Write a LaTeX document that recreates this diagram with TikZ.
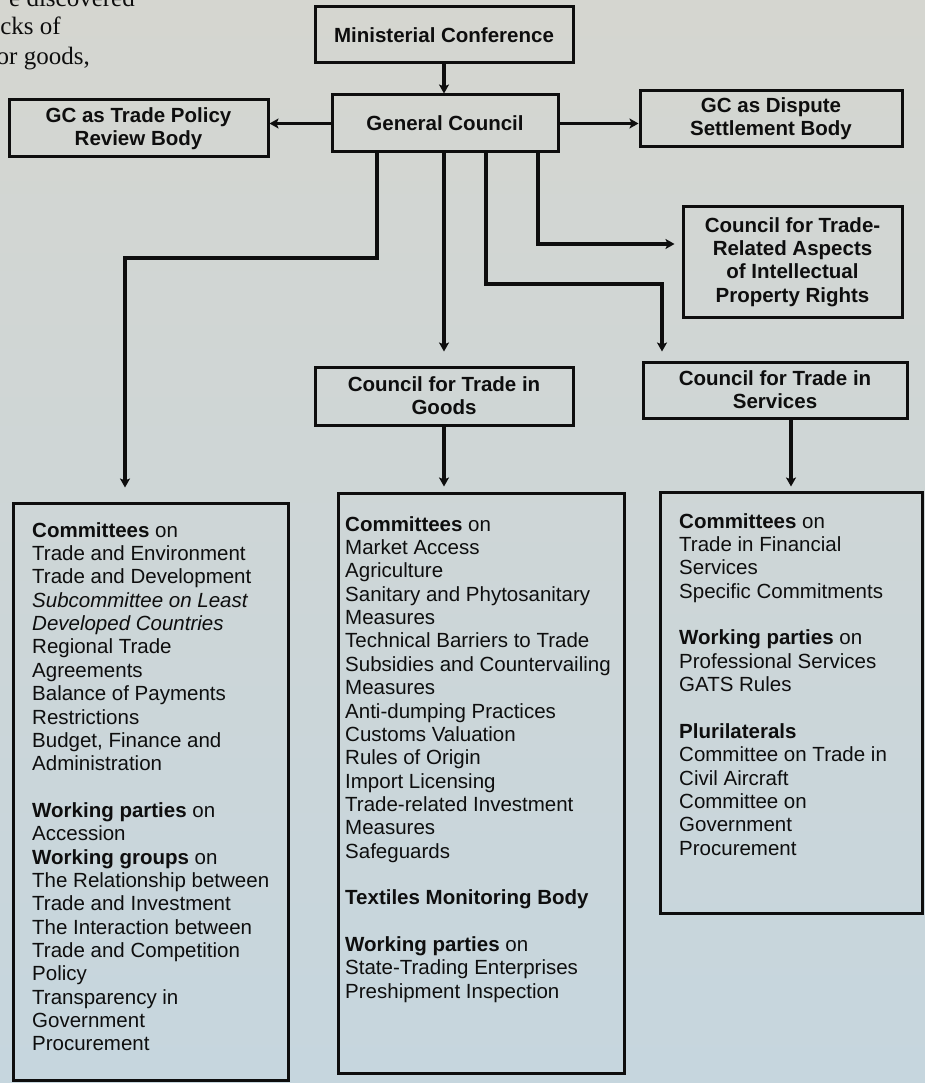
\documentclass[tikz,border=0pt]{standalone}
\usepackage{fontspec}
\setmainfont{Liberation Sans}
\newfontfamily\serifpage{Liberation Serif}
\usetikzlibrary{arrows.meta}
\definecolor{bgtop}{RGB}{213,214,208}
\definecolor{bgbot}{RGB}{198,214,222}
\definecolor{ink}{RGB}{14,14,14}
\tikzset{
  hbox/.style={draw=ink, line width=3pt, inner sep=0pt, align=center,
    font=\fontsize{20.5}{23.3}\selectfont\bfseries, text=ink},
  lbox/.style={draw=ink, line width=3pt, inner sep=0pt},
  ltext/.style={inner sep=0pt, anchor=north west, align=left,
    font=\fontsize{20.5}{23.35}\selectfont, text=ink},
  conn/.style={draw=ink, line width=3.5pt, -{Stealth[length=9pt,width=10pt,inset=2pt]}},
  pagetext/.style={inner sep=0pt, anchor=base east, text=ink,
    font=\serifpage\fontsize{25}{29}\selectfont},
}
\begin{document}
\begin{tikzpicture}[x=1pt,y=-1pt]
\useasboundingbox (0,0) rectangle (925,1083);
\shade[top color=bgtop, bottom color=bgbot] (0,0) rectangle (925,1083);
\begin{scope}
\clip (0,0) rectangle (925,1083);
\node[pagetext] (p1) at (135,7) {e discovered};
\node[pagetext] (p2) at (61,35) {cks of};
\node[pagetext] (p3) at (90,65) {or goods,};
\end{scope}

% header boxes
\node[hbox, minimum width=258pt, minimum height=56pt] (mc) at (444,35) {Ministerial Conference};
\node[hbox, minimum width=226pt, minimum height=57pt] (gc) at (445,123.5) {General Council};
\node[hbox, minimum width=259pt, minimum height=57pt] (tprb) at (138.5,128.5) {GC as Trade Policy\\Review Body};
\node[hbox, minimum width=262pt, minimum height=56pt] (dsb) at (771,119) {GC as Dispute\\Settlement Body};
\node[hbox, minimum width=219pt, minimum height=110pt] (trips) at (792.5,262) {Council for Trade-\\Related Aspects\\of Intellectual\\Property Rights};
\node[hbox, minimum width=258pt, minimum height=58pt] (goods) at (444,396) {Council for Trade in\\Goods};
\node[hbox, minimum width=264pt, minimum height=56pt] (serv) at (775,390) {Council for Trade in\\Services};

% list boxes
\node[lbox, minimum width=275pt, minimum height=577pt] (llist) at (150.5,791.5) {};
\node[lbox, minimum width=286pt, minimum height=580pt] (mlist) at (481,783) {};
\node[lbox, minimum width=262pt, minimum height=421pt] (rlist) at (791,702.5) {};

\node[ltext] (ltxt) at (32,521) {\rule{0pt}{16pt}\textbf{Committees} on\\
Trade and Environment\\
Trade and Development\\
\textit{Subcommittee on Least}\\
\textit{Developed Countries}\\
Regional Trade\\
Agreements\\
Balance of Payments\\
Restrictions\\
Budget, Finance and\\
Administration\\[23.35pt]
\textbf{Working parties} on\\
Accession\\
\textbf{Working groups} on\\
The Relationship between\\
Trade and Investment\\
The Interaction between\\
Trade and Competition\\
Policy\\
Transparency in\\
Government\\
Procurement};

\node[ltext] (mtxt) at (345,515) {\rule{0pt}{16pt}\textbf{Committees} on\\
Market Access\\
Agriculture\\
Sanitary and Phytosanitary\\
Measures\\
Technical Barriers to Trade\\
Subsidies and Countervailing\\
Measures\\
Anti-dumping Practices\\
Customs Valuation\\
Rules of Origin\\
Import Licensing\\
Trade-related Investment\\
Measures\\
Safeguards\\[23.35pt]
\textbf{Textiles Monitoring Body}\\[23.35pt]
\textbf{Working parties} on\\
State-Trading Enterprises\\
Preshipment Inspection};

\node[ltext] (rtxt) at (679,512) {\rule{0pt}{16pt}\textbf{Committees} on\\
Trade in Financial\\
Services\\
Specific Commitments\\[23.35pt]
\textbf{Working parties} on\\
Professional Services\\
GATS Rules\\[23.35pt]
\textbf{Plurilaterals}\\
Committee on Trade in\\
Civil Aircraft\\
Committee on\\
Government\\
Procurement};

% connectors
\coordinate (kL) at (125,258);
\coordinate (kS) at (662,284);
\coordinate (kT) at (538,244);
\draw[conn] (mc.south) -- (mc.south |- gc.north);
\draw[conn] (gc.west) -- (gc.west -| tprb.east);
\draw[conn] (gc.east) -- (gc.east -| dsb.west);
\draw[conn, shorten >=7pt] (gc.south -| kT) |- (kT -| trips.west);
\draw[conn, shorten >=14pt] ([xshift=-68pt]gc.south) |- (kL) -- (kL |- llist.north);
\draw[conn, shorten >=14pt] (gc.south -| goods.north) -- (goods.north);
\draw[conn, shorten >=9pt] ([xshift=41pt]gc.south) |- (kS) -- (kS |- serv.north);
\draw[conn, shorten >=5pt] (goods.south) -- (goods.south |- mlist.north);
\draw[conn, shorten >=4pt] (serv.south -| rlist.north) -- (rlist.north);
\end{tikzpicture}
\end{document}
